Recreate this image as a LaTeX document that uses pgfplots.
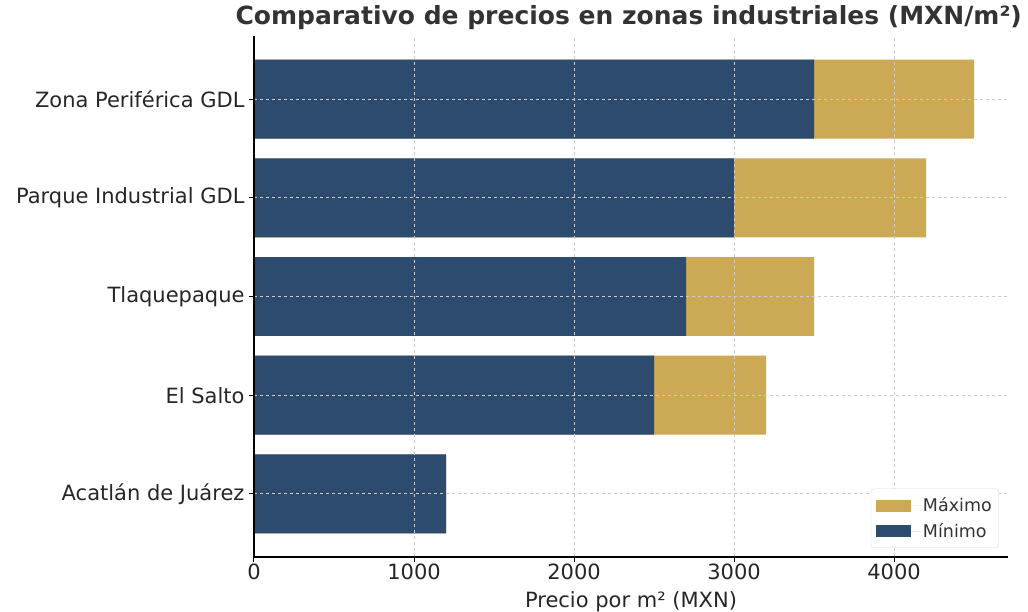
\documentclass[border=0pt]{standalone}
\usepackage{pgfplots}
\pgfplotsset{compat=1.18}
\usepackage{fontspec}
\setmainfont{DejaVu Sans}
\definecolor{navy}{HTML}{2D4A6F}
\definecolor{gold}{HTML}{CCA955}
\begin{document}
\begin{tikzpicture}
\begin{axis}[
  at={(0pt,0pt)}, anchor=south west,
  scale only axis, width=754pt, height=521pt,
  xbar, bar width=0.8,
  xmin=0, xmax=4712, ymin=-0.64, ymax=4.64,
  ytick={0,1,2,3,4},
  yticklabels={Acatlán de Juárez, El Salto, Tlaquepaque, Parque Industrial GDL, Zona Periférica GDL},
  xtick={0,1000,2000,3000,4000},
  /pgf/number format/assume math mode=true,
  /pgf/number format/1000 sep={},
  axis x line*=bottom, axis y line*=left,
  axis line style={line width=1.2pt, black},
  tick align=outside, major tick length=5pt,
  tick style={line width=1pt, black},
  grid=major, major grid style={dashed, black!20, line width=0.8pt},
  axis on top,
  tick label style={font=\fontsize{21}{24}\selectfont, text=black!85},
  xticklabel style={anchor=base, yshift=-17pt},
  yticklabel style={xshift=-1pt},
  xlabel={Precio por m² (MXN)},
  xlabel style={font=\fontsize{21}{24}\selectfont, text=black!85, at={(0.5,0)}, anchor=base, yshift=-50pt},
  title={Comparativo de precios en zonas industriales (MXN/m²)},
  title style={font=\bfseries\fontsize{25}{28}\selectfont, text=black!80, at={(0.497,1)}, anchor=base, yshift=5pt},
  legend style={at={(0.988,0.0173)}, anchor=south east, font=\fontsize{17.5}{21}\selectfont,
    draw=black!15, rounded corners=3pt, text=black!80, row sep=6pt, inner xsep=5pt, inner ysep=7pt},
  legend cell align=left,
  legend image code/.code={\fill[#1,draw=none,sharp corners] (0pt,-6pt) rectangle (35pt,6pt); \path (0pt,0pt) -- (45pt,0pt);},
]
\addplot[fill=gold, draw=none, bar shift=0] coordinates {(4500,4) (4200,3) (3500,2) (3200,1) (1200,0)};
\addlegendentry{Máximo}
\addplot[fill=navy, draw=none, bar shift=0] coordinates {(3500,4) (3000,3) (2700,2) (2500,1) (1200,0)};
\addlegendentry{Mínimo}
\end{axis}
\pgfresetboundingbox
\useasboundingbox (-254pt,-54pt) rectangle (774pt,557pt);
\end{tikzpicture}
\end{document}
